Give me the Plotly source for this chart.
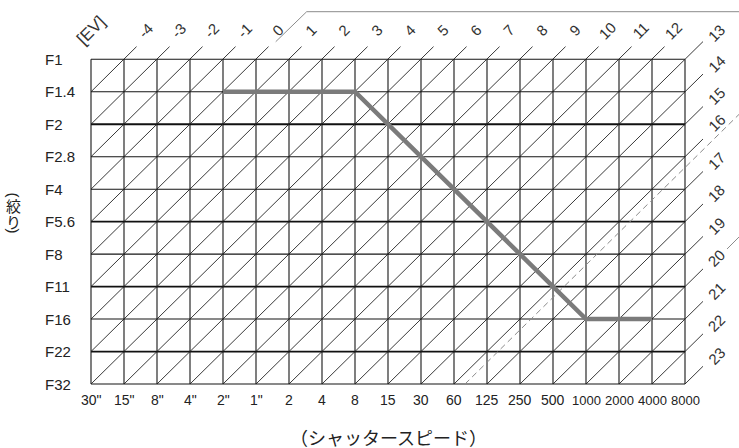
import plotly.graph_objects as go

# shutter speeds along the bottom (Tv -5 .. 13) and apertures down the side (Av 0 .. 10)
shutter_labels = ['30"', '15"', '8"', '4"', '2"', '1"', '2', '4', '8', '15', '30', '60',
                  '125', '250', '500', '1000', '2000', '4000', '8000']
aperture_labels = ['F1', 'F1.4', 'F2', 'F2.8', 'F4', 'F5.6', 'F8', 'F11', 'F16', 'F22', 'F32']
bold_rows = ['F2', 'F5.6', 'F11', 'F22']
ev_top = list(range(-4, 14))
ev_right = list(range(14, 24))

# programmed exposure curve
program_shutter = ['2"', '8', '1000', '4000']
program_aperture = ['F1.4', 'F1.4', 'F16', 'F16']

# dashed reference line
dashed_ev = 16 + 1 / 3
dashed_label = '16⅓'

TV0 = -5  # Tv of the first column (30")

W, H = 739, 448
X0, CW = 91.0, 33.0
Y0, RH = 59.3, 32.47

ncol = len(shutter_labels) - 1
nrow = len(aperture_labels) - 1

LATIN = 'Liberation Sans, Arial, sans-serif'
CJK = 'Noto Sans CJK JP, sans-serif'

fig = go.Figure()

# grid: verticals and horizontals
gx, gy = [], []
bx, by = [], []
for c in range(ncol + 1):
    gx += [c, c, None]
    gy += [0, nrow, None]
for r, a in enumerate(aperture_labels):
    if a in bold_rows:
        bx += [0, ncol, None]
        by += [r, r, None]
    else:
        gx += [0, ncol, None]
        gy += [r, r, None]
fig.add_trace(go.Scatter(x=gx, y=gy, mode='lines', line=dict(color='#151515', width=1.1),
                         hoverinfo='skip', showlegend=False))
fig.add_trace(go.Scatter(x=bx, y=by, mode='lines', line=dict(color='#111', width=1.8),
                         hoverinfo='skip', showlegend=False))

# EV diagonals, extended past the top / right edge
dx, dy = [], []
ends = {}
for k in range(1, ncol + nrow + 1):
    r_bot = min(nrow, k)
    c_bot = k - r_bot
    r_top = max(0, k - ncol)
    c_top = k - r_top
    if r_top == 0 and k < ncol:
        ex, ey = 0.38, 0.39
    else:
        ex, ey = 0.545, 0.545
    dx += [c_bot, c_top + ex, None]
    dy += [r_bot, r_top - ey, None]
    ends[k + TV0] = (c_top + ex, r_top - ey)
fig.add_trace(go.Scatter(x=dx, y=dy, mode='lines', line=dict(color='#222', width=0.9),
                         hoverinfo='skip', showlegend=False))

# dashed EV 16 1/3 line
d_rows = [nrow, ncol + 0.75 - (dashed_ev - TV0)]
d_cols = [dashed_ev - TV0 - r for r in d_rows]
fig.add_trace(go.Scatter(x=d_cols, y=d_rows, mode='lines',
                         line=dict(color='#8a8a8a', width=1, dash='6px,4px'),
                         hoverinfo='skip', showlegend=False))

# program line
fig.add_trace(go.Scatter(x=[shutter_labels.index(s) for s in program_shutter],
                         y=[aperture_labels.index(a) for a in program_aperture],
                         mode='lines', line=dict(color='#7b7b7b', width=4.5),
                         hoverinfo='skip', showlegend=False))

ann = []
for i, a in enumerate(aperture_labels):
    ann.append(dict(x=0, y=i, text=a, xshift=-48, xanchor='left', yanchor='middle',
                    font=dict(family=LATIN, size=15, color='#222')))
for i, s in enumerate(shutter_labels):
    ann.append(dict(x=i, y=nrow, text=s, yshift=-16, xanchor='center', yanchor='middle',
                    font=dict(family=LATIN, size=13 if len(s) > 3 else 14, color='#222')))
for ev in ev_top:
    cx, cy = ends[ev]
    ox, oy = (14, 9) if ev == ev_top[-1] else (9, 16)
    ann.append(dict(x=cx, y=cy, text=str(ev), xshift=ox, yshift=oy, textangle=-45,
                    xanchor='center', yanchor='middle',
                    font=dict(family=LATIN, size=15, color='#333')))
for ev in ev_right:
    cx, cy = ends[ev]
    oy = 17 if ev == 16 else 11
    ann.append(dict(x=cx, y=cy, text=str(ev), xshift=14, yshift=oy, textangle=-45,
                    xanchor='center', yanchor='middle',
                    font=dict(family=LATIN, size=15, color='#333')))
ann.append(dict(x=d_cols[-1], y=d_rows[-1], text=dashed_label, xshift=13, yshift=6,
                textangle=-45, xanchor='center', yanchor='middle',
                font=dict(family=LATIN, size=9, color='#8a8a8a')))
ann.append(dict(x=0, y=0, text='[EV]', yshift=29, textangle=-45,
                xanchor='center', yanchor='middle',
                font=dict(family=LATIN, size=17, color='#333')))

# axis titles (paper coords)
def px(x, y):
    return x / W, 1 - y / H

for ch, yy, ang in [('(', 194.5, 90), ('絞', 205.5, 0), ('り', 221, 0), (')', 230.5, 90)]:
    x, y = px(13, yy)
    ann.append(dict(xref='paper', yref='paper', x=x, y=y, text=ch, textangle=ang,
                    xanchor='center', yanchor='middle', borderpad=0,
                    font=dict(family=LATIN if ang else CJK, size=15, color='#222')))
x, y = px(388, 437)
ann.append(dict(xref='paper', yref='paper', x=x, y=y, text='（シャッタースピード）',
                xanchor='center', yanchor='middle', borderpad=0,
                font=dict(family=CJK, size=18, color='#222')))
for a in ann:
    a.setdefault('showarrow', False)
    a.setdefault('xref', 'x')
    a.setdefault('yref', 'y')

# page frame fragments
def pp(x, y):
    a, b = px(x, y)
    return f'{a:.4f},{b:.4f}'

shapes = [
    dict(type='path', xref='paper', yref='paper',
         path=f'M {pp(275.7, 41.7)} L {pp(306.7, 11.7)} L {pp(739, 11.7)}',
         line=dict(color='#8c8c8c', width=1)),
    dict(type='path', xref='paper', yref='paper',
         path=f'M {pp(727, 249)} L {pp(739, 237)}',
         line=dict(color='#8c8c8c', width=1)),
]

fig.update_layout(
    width=W, height=H,
    margin=dict(l=0, r=0, t=0, b=0),
    paper_bgcolor='white', plot_bgcolor='white',
    xaxis=dict(range=[-X0 / CW, (W - X0) / CW], visible=False, fixedrange=True),
    yaxis=dict(range=[(H - Y0) / RH, -Y0 / RH], visible=False, fixedrange=True),
    annotations=ann, shapes=shapes, showlegend=False,
)

fig.write_html('out.html', config={'displayModeBar': False},
               post_script="document.body.style.margin='0';document.body.style.overflow='hidden';")
